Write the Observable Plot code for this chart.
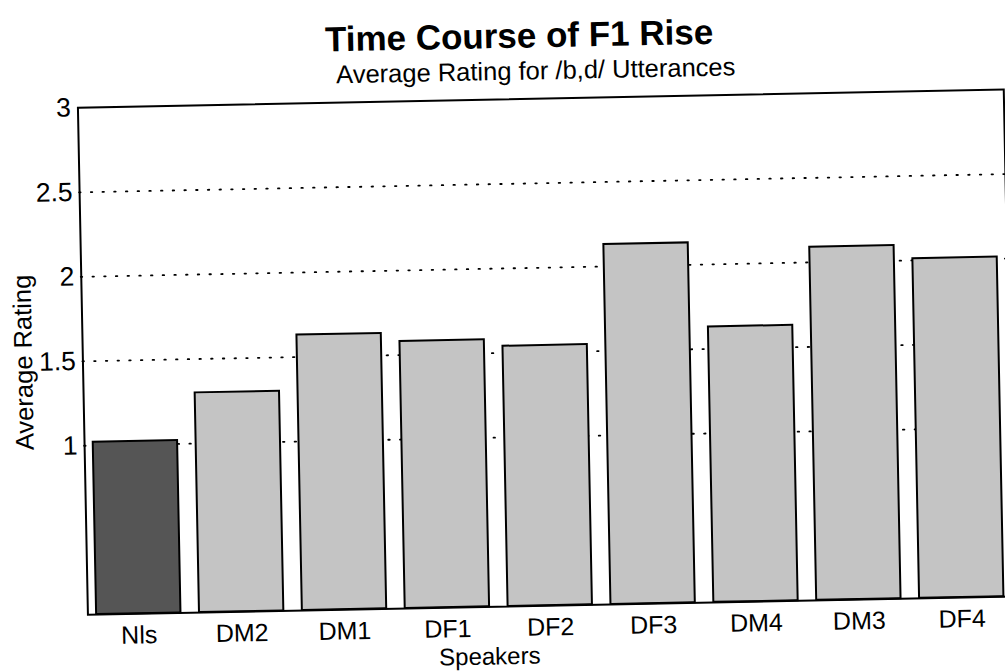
<!DOCTYPE html>
<html><head><meta charset="utf-8">
<script src="https://cdn.jsdelivr.net/npm/d3@7"></script>
<script src="https://cdn.jsdelivr.net/npm/@observablehq/plot@0.6"></script>
<style>
html,body{margin:0;padding:0;background:#fff;overflow:hidden;width:1005px;height:671px;}
#fig{position:absolute;left:0;top:0;width:1005px;height:671px;transform:rotate(-1.13deg);transform-origin:502.5px 335.5px;font-family:"Liberation Sans",Arial,Helvetica,sans-serif;color:#000;}
#head{position:relative;height:88px;}
#title{position:absolute;left:525px;top:18px;transform:translateX(-50%);font-size:35px;font-weight:bold;line-height:1;white-space:nowrap;}
#subtitle{position:absolute;left:541px;top:59px;transform:translateX(-50%);font-size:25.5px;line-height:1;white-space:nowrap;}
#chart svg{max-width:none;}
</style></head><body>
<div id="fig">
  <div id="head"><div id="title">Time Course of F1 Rise</div><div id="subtitle">Average Rating for /b,d/ Utterances</div></div>
  <div id="chart"></div>
</div>
<script>
const speakers = ["Nls", "DM2", "DM1", "DF1", "DF2", "DF3", "DM4", "DM3", "DF4"];
const ratings  = [1.02, 1.30, 1.63, 1.58, 1.54, 2.13, 1.63, 2.09, 2.01];
const yTicks = [1, 1.5, 2, 2.5, 3];
const gridValues = [1, 1.5, 2, 2.5];
const xTitle = "Speakers";
const yTitle = "Average Rating";

const data = speakers.map((s, i) => ({speaker: s, rating: ratings[i]}));

const chart = Plot.plot({
  width: 1008,
  height: 583,
  marginLeft: 82,
  marginRight: 0,
  marginTop: 11,
  marginBottom: 65,
  style: {fontFamily: '"Liberation Sans", Arial, Helvetica, sans-serif', fontSize: "25px", color: "#000", background: "transparent", overflow: "visible", maxWidth: "none"},
  x: {domain: speakers, paddingInner: 0.18, paddingOuter: 0.09, align: 0.47, round: false},
  y: {domain: [0, 3]},
  color: {type: "identity"},
  marks: [
    Plot.ruleY(gridValues, {stroke: "#000", strokeWidth: 1.8, strokeDasharray: "1.5,10.2", strokeLinecap: "round"}),
    Plot.barY(data, {x: "speaker", y: "rating", fill: d => d.speaker === "Nls" ? "#555555" : "#c4c4c4", stroke: "#000", strokeWidth: 2}),
    Plot.frame({stroke: "#000", strokeWidth: 2}),
    Plot.axisX({tickSize: 0, tickPadding: 12, label: null, fontSize: 25}),
    Plot.axisY({ticks: yTicks, tickSize: 0, tickPadding: 7, tickFormat: d => String(d), label: null, fontSize: 26.5}),
    Plot.text([xTitle], {frameAnchor: "bottom", dy: 50, dx: -62, fontSize: 24, textAnchor: "middle", lineAnchor: "middle"}),
    Plot.text([yTitle], {frameAnchor: "left", dx: -59, rotate: -90, fontSize: 25.5, textAnchor: "middle", lineAnchor: "middle"})
  ]
});
document.getElementById("chart").appendChild(chart);
</script>
</body></html>
